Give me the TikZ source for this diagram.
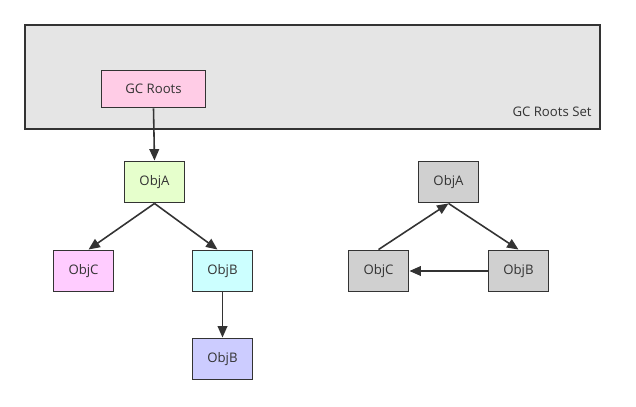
\documentclass[tikz,border=0pt]{standalone}
\usepackage{fontspec}
\setmainfont{Open Sans}
\usetikzlibrary{arrows.meta}
\definecolor{lineGray}{RGB}{51,51,51}
\definecolor{setGray}{RGB}{229,229,229}
\definecolor{rootPink}{RGB}{255,204,230}
\definecolor{objGreen}{RGB}{230,255,204}
\definecolor{objMagenta}{RGB}{255,204,255}
\definecolor{objCyan}{RGB}{204,255,255}
\definecolor{objBlue}{RGB}{204,204,255}
\definecolor{objGray}{RGB}{208,208,208}

\begin{document}
\begin{tikzpicture}[x=0.02cm, y=-0.02cm,
        rootset/.style={rectangle, draw=lineGray, line width=1.1pt, fill=setGray, minimum width=11.5cm, minimum height=2.08cm, inner sep=0pt},
        root/.style={rectangle, draw=lineGray, line width=1.1pt, fill=rootPink, minimum width=2.08cm, minimum height=0.74cm, inner sep=0pt, font=\fontsize{7.5}{9}\selectfont, text=lineGray},
        obj/.style={rectangle, draw=lineGray, line width=1.1pt, minimum width=1.2cm, minimum height=0.82cm, inner sep=0pt, font=\fontsize{7.5}{9}\selectfont, text=lineGray},
        ref/.style={draw=lineGray, line width=0.9pt, -{Triangle[length=6.5pt,width=5.5pt]}}
    ]
        \useasboundingbox (0,0) rectangle (636,406);

        \node[rootset] (set) at (312.5,77) {};
        \node[font=\fontsize{7.5}{9}\selectfont, text=lineGray, anchor=east, inner sep=0pt] at ([xshift=-0.18cm,yshift=0.36cm]set.south east) {GC Roots Set};
        \node[root] (gcroots) at (153.5,89) {GC Roots};

        % reachable objects
        \node[obj, fill=objGreen] (objA) at (154.5,182) {ObjA};
        \node[obj, fill=objMagenta] (objC) at (83.5,271) {ObjC};
        \node[obj, fill=objCyan] (objB) at (222.5,271) {ObjB};
        \node[obj, fill=objBlue] (objB2) at (222.5,359) {ObjB};

        \draw[ref] (gcroots.south) -- (objA.north);
        \draw[ref] (objA.south) -- ([xshift=0.1cm]objC.north);
        \draw[ref] (objA.south) -- ([xshift=-0.1cm]objB.north);
        \draw[ref] (objB.south) -- (objB2.north);

        % unreachable cycle
        \node[obj, fill=objGray] (deadA) at (448.5,182) {ObjA};
        \node[obj, fill=objGray] (deadC) at (378.5,271) {ObjC};
        \node[obj, fill=objGray] (deadB) at (518.5,271) {ObjB};

        \draw[ref] (deadC.north) -- (deadA.south);
        \draw[ref] (deadA.south) -- (deadB.north);
        \draw[ref] (deadB.west) -- (deadC.east);
    \end{tikzpicture}
\end{document}
